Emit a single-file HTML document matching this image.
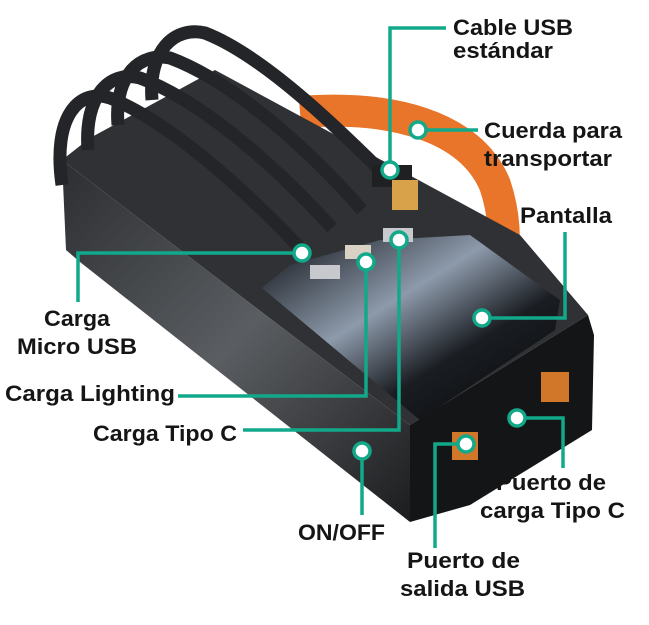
<!DOCTYPE html>
<html><head><meta charset="utf-8"><style>
html,body{margin:0;padding:0;background:#fff;}
svg{display:block}
text{font-family:"Liberation Sans",sans-serif;font-weight:bold;font-size:22px;fill:#151515;}
</style></head><body>
<svg width="649" height="625" viewBox="0 0 649 625" xmlns="http://www.w3.org/2000/svg">
<defs>
<linearGradient id="scr" x1="0" y1="0" x2="1" y2="1">
<stop offset="0" stop-color="#0c0e12"/><stop offset="0.4" stop-color="#8d9aab"/><stop offset="0.65" stop-color="#1a1d22"/><stop offset="1" stop-color="#050607"/>
</linearGradient>
<linearGradient id="front" x1="0" y1="0" x2="1" y2="1">
<stop offset="0" stop-color="#2c2e31"/><stop offset="0.5" stop-color="#5a5d61"/><stop offset="1" stop-color="#1c1d1f"/>
</linearGradient>
</defs>
<!-- orange strap -->
<path d="M300,112 C390,105 470,125 495,185 C505,215 505,240 502,262" fill="none" stroke="#e8752a" stroke-width="32"/>
<!-- body -->
<polygon points="62,160 90,138 215,70 520,235 588,315 410,425" fill="#2f3134"/>
<polygon points="62,160 410,425 410,522 80,262 66,250" fill="url(#front)"/>
<polygon points="410,425 588,315 594,335 592,430 470,505 410,522" fill="#141517"/>
<polygon points="262,288 290,265 380,240 470,235 560,300 555,330 420,420" fill="url(#scr)"/>
<!-- cables -->
<g fill="none" stroke="#242528" stroke-width="13" stroke-linecap="butt">
<path d="M62,185 C52,115 80,88 110,98 C170,122 245,190 300,248"/>
<path d="M88,150 C84,95 110,70 140,78 C200,100 275,165 332,228"/>
<path d="M118,125 C114,75 140,52 170,58 C230,80 305,145 362,210"/>
<path d="M152,100 C148,50 175,26 205,33 C262,55 335,125 390,180"/>
</g>
<!-- connectors -->
<rect x="372" y="165" width="40" height="22" fill="#1f2022"/>
<rect x="392" y="180" width="26" height="30" fill="#d8a24a"/>
<rect x="310" y="265" width="30" height="14" fill="#c7c9cc"/>
<rect x="345" y="245" width="26" height="14" fill="#d9d2c4"/>
<rect x="383" y="228" width="30" height="14" fill="#c7c9cc"/>
<rect x="541" y="372" width="28" height="30" fill="#d0772a"/>
<rect x="452" y="432" width="26" height="28" fill="#d0772a"/>
<!-- teal lines -->
<g fill="none" stroke="#12a88a" stroke-width="3.5">
<polyline points="390,170 390,28 446,28"/>
<polyline points="418,130 478,130"/>
<polyline points="482,318 565,318 565,232"/>
<polyline points="302,253 78,253 78,302"/>
<polyline points="366,262 366,396 178,396"/>
<polyline points="399,240 399,430 243,430"/>
<polyline points="362,451 362,515"/>
<polyline points="466,444 435,444 435,548"/>
<polyline points="517,418 563,418 563,468"/>
</g>
<g fill="#fff" stroke="#12a88a" stroke-width="3.5">
<circle cx="390" cy="170" r="8"/><circle cx="418" cy="130" r="8"/>
<circle cx="482" cy="318" r="8"/><circle cx="302" cy="253" r="8"/>
<circle cx="366" cy="262" r="8"/><circle cx="399" cy="240" r="8"/>
<circle cx="362" cy="451" r="8"/><circle cx="466" cy="444" r="8"/>
<circle cx="517" cy="418" r="8"/>
</g>
<!-- labels -->
<text x="453" y="35" textLength="120" lengthAdjust="spacingAndGlyphs">Cable USB</text>
<text x="453" y="58" textLength="100" lengthAdjust="spacingAndGlyphs">estándar</text>
<text x="484" y="138" textLength="138" lengthAdjust="spacingAndGlyphs">Cuerda para</text>
<text x="484" y="166" textLength="128" lengthAdjust="spacingAndGlyphs">transportar</text>
<text x="520" y="223" textLength="92" lengthAdjust="spacingAndGlyphs">Pantalla</text>
<text x="44" y="326" textLength="66" lengthAdjust="spacingAndGlyphs">Carga</text>
<text x="17" y="354" textLength="120" lengthAdjust="spacingAndGlyphs">Micro USB</text>
<text x="5" y="401" textLength="170" lengthAdjust="spacingAndGlyphs">Carga Lighting</text>
<text x="93" y="441" textLength="144" lengthAdjust="spacingAndGlyphs">Carga Tipo C</text>
<text x="298" y="540" textLength="87" lengthAdjust="spacingAndGlyphs">ON/OFF</text>
<text x="407" y="568" textLength="113" lengthAdjust="spacingAndGlyphs">Puerto de</text>
<text x="400" y="596" textLength="125" lengthAdjust="spacingAndGlyphs">salida USB</text>
<text x="496" y="490" textLength="110" lengthAdjust="spacingAndGlyphs">Puerto de</text>
<text x="480" y="518" textLength="145" lengthAdjust="spacingAndGlyphs">carga Tipo C</text>
</svg>
</body></html>
